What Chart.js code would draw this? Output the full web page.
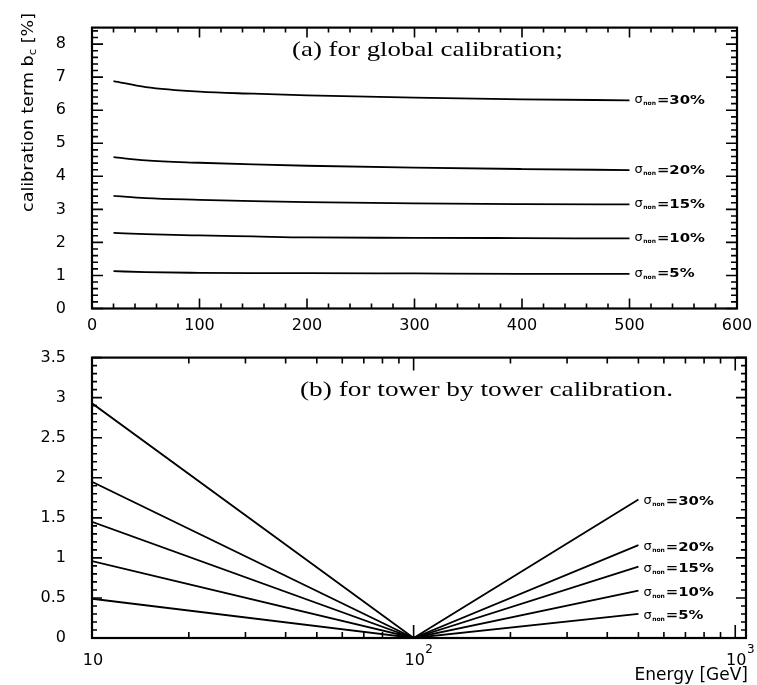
<!DOCTYPE html>
<html>
<head>
<meta charset="utf-8">
<script src="https://cdn.jsdelivr.net/npm/chart.js@4.4.1/dist/chart.umd.min.js"></script>
<style>
  html, body { margin: 0; padding: 0; background: #fff; }
  body { width: 757px; height: 685px; position: relative; overflow: hidden; }
  canvas { position: absolute; left: 0; }
  #c1 { top: 0; }
  #c2 { top: 330px; }
</style>
</head>
<body>
<canvas id="c1" width="757" height="340"></canvas>
<canvas id="c2" width="757" height="355"></canvas>
<script>
// ---------- data: panel (a), global calibration ----------
const energiesA = [20, 50, 100, 150, 200, 300, 400, 500];
const bc30A = [6.88, 6.70, 6.56, 6.50, 6.45, 6.38, 6.33, 6.30];
const bc20A = [4.58, 4.48, 4.41, 4.36, 4.32, 4.26, 4.22, 4.19];
const bc15A = [3.41, 3.34, 3.29, 3.25, 3.22, 3.18, 3.16, 3.15];
const bc10A = [2.29, 2.25, 2.21, 2.18, 2.15, 2.14, 2.13, 2.12];
const bc5A  = [1.13, 1.10, 1.08, 1.07, 1.07, 1.06, 1.05, 1.05];

// ---------- data: panel (b), tower by tower calibration ----------
const energiesB = [10, 100, 500];
const bc30B = [2.93, 0, 1.73];
const bc20B = [1.95, 0, 1.16];
const bc15B = [1.45, 0, 0.89];
const bc10B = [0.96, 0, 0.59];
const bc5B  = [0.49, 0, 0.30];

const sigmaLabels = ['30%', '20%', '15%', '10%', '5%'];

// ---------- tick labels ----------
const xTicksA = [0, 100, 200, 300, 400, 500, 600];
const yTicksA = [0, 1, 2, 3, 4, 5, 6, 7, 8];
const xTicksB = [10, 100, 1000];
const xTickExpB = ['', '2', '3'];
const yTicksB = [0, 0.5, 1, 1.5, 2, 2.5, 3, 3.5];

const titleA = '(a) for global calibration;';
const titleB = '(b) for tower by tower calibration.';
const xTitle = 'Energy [GeV]';

const TICK_FONT = { family: 'DejaVu Sans', size: 16 };

function mkSets(xs, series, smooth) {
  return series.map(s => ({
    data: xs.map((x, i) => ({ x: x, y: s[i] })),
    borderColor: '#000', borderWidth: 1.8, pointRadius: 0,
    fill: false,
    cubicInterpolationMode: smooth ? 'monotone' : 'default',
    tension: 0
  }));
}

function fitText(ctx, text, x, y, width) {
  const w = ctx.measureText(text).width;
  ctx.save();
  ctx.translate(x, y);
  ctx.scale(width / w, 1);
  ctx.fillText(text, 0, 0);
  ctx.restore();
}

function drawSigma(ctx, x, y, pct, scale) {
  ctx.save();
  ctx.fillStyle = '#000';
  ctx.textBaseline = 'alphabetic';
  ctx.textAlign = 'left';
  ctx.font = '13px DejaVu Sans';
  ctx.fillText('σ', x, y + 4);
  let cx = x + ctx.measureText('σ').width + 0.5;
  ctx.font = 'bold 6px DejaVu Sans';
  ctx.fillText('non', cx, y + 6);
  cx += ctx.measureText('non').width + 1;
  ctx.font = 'bold 12px DejaVu Sans';
  const t = '=' + pct;
  ctx.translate(cx, y + 4.5);
  ctx.scale(scale, 1);
  ctx.fillText(t, 0, 0);
  ctx.restore();
}

function sigmaScale(ctx) {
  ctx.save();
  ctx.font = 'bold 12px DejaVu Sans';
  const s = 48 / ctx.measureText('=30%').width;
  ctx.restore();
  return s;
}

function frameAndTicks(ctx, area, xs, ys, xMaj, xMin, yMaj, yMin, xl, yl) {
  const { left, right, top, bottom } = area;
  ctx.save();
  ctx.strokeStyle = '#000';
  ctx.lineWidth = 1.6;
  ctx.beginPath();
  const seg = (x1, y1, x2, y2) => { ctx.moveTo(x1, y1); ctx.lineTo(x2, y2); };
  xMaj.forEach(v => { const p = xs.getPixelForValue(v); seg(p, bottom, p, bottom - xl[0]); seg(p, top, p, top + xl[0]); });
  xMin.forEach(v => { const p = xs.getPixelForValue(v); seg(p, bottom, p, bottom - xl[1]); seg(p, top, p, top + xl[1]); });
  yMaj.forEach(v => { const p = ys.getPixelForValue(v); seg(left, p, left + yl[0], p); seg(right, p, right - yl[0], p); });
  yMin.forEach(v => { const p = ys.getPixelForValue(v); seg(left, p, left + yl[1], p); seg(right, p, right - yl[1], p); });
  ctx.stroke();
  ctx.lineWidth = 2.2;
  ctx.strokeRect(left, top, right - left, bottom - top);
  ctx.restore();
}

// ---------- chart (a) ----------
const plugA = {
  id: 'plugA',
  afterDraw(chart) {
    const ctx = chart.ctx, a = chart.chartArea, xs = chart.scales.x, ys = chart.scales.y;
    const xMin = [], yMin = [];
    for (let v = 20; v < 600; v += 20) if (v % 100) xMin.push(v);
    for (let k = 1; k < 43; k++) if (k % 5) yMin.push(k / 5);
    frameAndTicks(ctx, a, xs, ys, xTicksA, xMin, yTicksA, yMin, [10, 5], [11, 6]);

    ctx.save();
    ctx.fillStyle = '#000';
    ctx.font = '22px "Liberation Serif"';
    ctx.textBaseline = 'alphabetic';
    fitText(ctx, titleA, 292, 56, 271);

    // y title
    ctx.translate(33, 212);
    ctx.rotate(-Math.PI / 2);
    const p1 = 'calibration term b', p3 = ' [%]';
    ctx.font = '15px DejaVu Sans';
    const w1 = ctx.measureText(p1).width;
    ctx.font = '10px DejaVu Sans';
    const w2 = ctx.measureText('c').width;
    ctx.font = '15px DejaVu Sans';
    const w3 = ctx.measureText(p3).width;
    const sc = 199 / (w1 + w2 + w3);
    ctx.scale(sc, 1);
    ctx.fillText(p1, 0, 0);
    ctx.font = '10px DejaVu Sans';
    ctx.fillText('c', w1, 3);
    ctx.font = '15px DejaVu Sans';
    ctx.fillText(p3, w1 + w2, 0);
    ctx.restore();

    const s = sigmaScale(ctx);
    chart.data.datasets.forEach((d, i) => {
      const pts = chart.getDatasetMeta(i).data;
      const pt = pts[pts.length - 1];
      drawSigma(ctx, pt.x + 5, pt.y - 1, sigmaLabels[i], s);
    });
  }
};

new Chart(document.getElementById('c1'), {
  type: 'line',
  data: { datasets: mkSets(energiesA, [bc30A, bc20A, bc15A, bc10A, bc5A], true) },
  options: {
    responsive: false, animation: false, devicePixelRatio: 1,
    layout: { padding: { left: 0, right: 20, top: 11, bottom: 0 } },
    plugins: { legend: { display: false }, tooltip: { enabled: false } },
    scales: {
      x: {
        type: 'linear', min: 0, max: 600,
        afterBuildTicks: s => { s.ticks = xTicksA.map(v => ({ value: v })); },
        afterFit: s => { s.height = 31.5; },
        grid: { display: false }, border: { display: false },
        ticks: { font: TICK_FONT, color: '#000', padding: 0, maxRotation: 0, autoSkip: false,
                 callback: v => String(v) }
      },
      y: {
        type: 'linear', min: 0, max: 8.5,
        afterBuildTicks: s => { s.ticks = yTicksA.map(v => ({ value: v })); },
        afterFit: s => { s.width = 92; },
        grid: { display: false }, border: { display: false },
        ticks: { font: TICK_FONT, color: '#000', padding: 18, autoSkip: false,
                 callback: v => String(v) }
      }
    }
  },
  plugins: [plugA]
});

// ---------- chart (b) ----------
const plugB = {
  id: 'plugB',
  afterDraw(chart) {
    const ctx = chart.ctx, a = chart.chartArea, xs = chart.scales.x, ys = chart.scales.y;
    const xMin = [], yMin = [];
    [10, 100].forEach(d => { for (let m = 2; m <= 9; m++) xMin.push(d * m); });
    for (let k = 1; k < 35; k++) if (k % 5) yMin.push(k / 10);
    frameAndTicks(ctx, a, xs, ys, xTicksB, xMin, yTicksB, yMin, [13, 6], [10, 5]);

    ctx.save();
    ctx.fillStyle = '#000';
    // log tick labels with superscripts
    xTicksB.forEach((v, i) => {
      const p = xs.getPixelForValue(v);
      ctx.font = '16px DejaVu Sans';
      ctx.textAlign = 'center';
      ctx.textBaseline = 'alphabetic';
      ctx.fillText('10', p + 1, a.bottom + 27);
      const w = ctx.measureText('10').width;
      if (xTickExpB[i]) {
        ctx.font = '12px DejaVu Sans';
        ctx.textAlign = 'left';
        ctx.fillText(xTickExpB[i], p + 1 + w / 2 + 0.5, a.bottom + 15);
      }
    });
    ctx.font = '17px DejaVu Sans';
    ctx.textAlign = 'right';
    ctx.fillText(xTitle, 748, 350);

    ctx.textAlign = 'left';
    ctx.font = '22px "Liberation Serif"';
    fitText(ctx, titleB, 300, 66, 373);
    ctx.restore();

    const s = sigmaScale(ctx);
    chart.data.datasets.forEach((d, i) => {
      const pts = chart.getDatasetMeta(i).data;
      const pt = pts[pts.length - 1];
      drawSigma(ctx, pt.x + 5, pt.y + 1, sigmaLabels[i], s);
    });
  }
};

new Chart(document.getElementById('c2'), {
  type: 'line',
  data: { datasets: mkSets(energiesB, [bc30B, bc20B, bc15B, bc10B, bc5B], false) },
  options: {
    responsive: false, animation: false, devicePixelRatio: 1,
    layout: { padding: { left: 0, right: 11, top: 10, bottom: 0 } },
    plugins: { legend: { display: false }, tooltip: { enabled: false } },
    scales: {
      x: {
        type: 'logarithmic', min: 10, max: 1080,
        afterBuildTicks: s => { s.ticks = xTicksB.map(v => ({ value: v })); },
        afterFit: s => { s.height = 47; },
        grid: { display: false }, border: { display: false },
        ticks: { display: false }
      },
      y: {
        type: 'linear', min: 0, max: 3.5,
        afterBuildTicks: s => { s.ticks = yTicksB.map(v => ({ value: v })); },
        afterFit: s => { s.width = 92; },
        grid: { display: false }, border: { display: false },
        ticks: { font: TICK_FONT, color: '#000', padding: 18, autoSkip: false,
                 callback: v => String(v) }
      }
    }
  },
  plugins: [plugB]
});
</script>
</body>
</html>
